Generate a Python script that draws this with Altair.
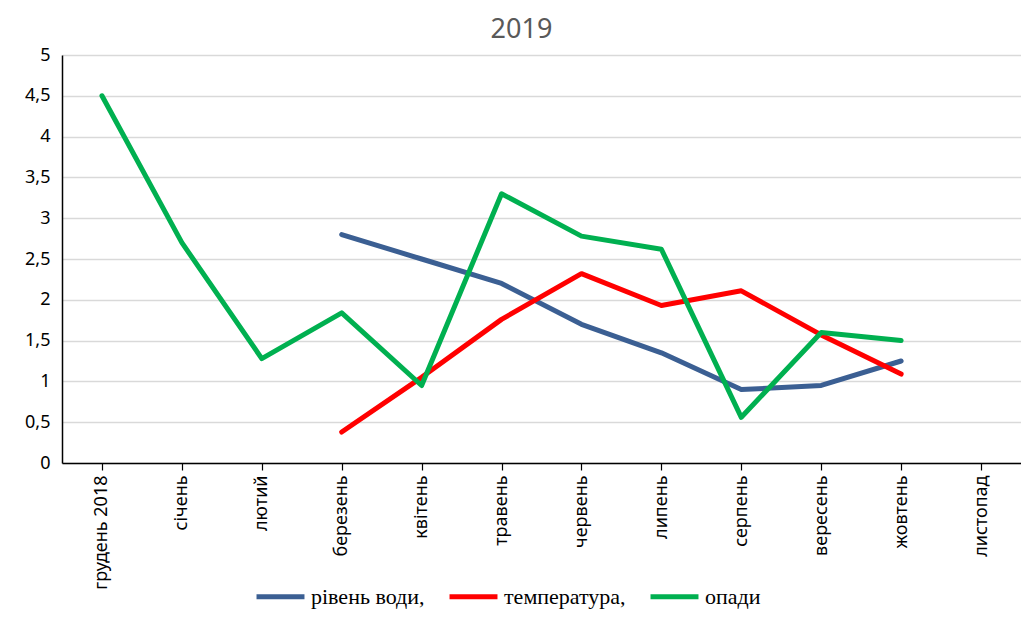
import altair as alt
import pandas as pd

months = ["грудень 2018", "січень", "лютий", "березень", "квітень", "травень",
          "червень", "липень", "серпень", "вересень", "жовтень", "листопад"]
series_names = ["рівень води,", "температура,", "опади"]
water = [None, None, None, 2.8, 2.5, 2.2, 1.7, 1.35, 0.9, 0.95, 1.25, None]
temp = [None, None, None, 0.38, 1.05, 1.76, 2.32, 1.93, 2.11, 1.57, 1.09, None]
precip = [4.5, 2.7, 1.28, 1.84, 0.95, 3.3, 2.78, 2.62, 0.56, 1.6, 1.5, None]
colors = ["#3B5F93", "#FF0000", "#00B050"]

rows = []
for name, vals in zip(series_names, [water, temp, precip]):
    for i, (m, v) in enumerate(zip(months, vals)):
        if v is not None:
            rows.append({"month": m, "value": v, "series": name, "order": i})
df = pd.DataFrame(rows)

font = "Noto Sans"

chart = alt.Chart(df).mark_line(strokeWidth=5, strokeCap="round", strokeJoin="round").encode(
    x=alt.X("month:N", sort=months, scale=alt.Scale(domain=months, type="point", padding=0.5),
            axis=alt.Axis(title=None, labelAngle=-90, labelAlign="right", labelBaseline="middle",
                          labelFontSize=18, labelFont=font, labelColor="#000000", labelPadding=5,
                          domainColor="#000000", domainWidth=1.5, tickColor="#000000",
                          tickSize=7, tickWidth=1.2, grid=False)),
    y=alt.Y("value:Q", scale=alt.Scale(domain=[0, 5], nice=False),
            axis=alt.Axis(title=None, values=[0, 0.5, 1, 1.5, 2, 2.5, 3, 3.5, 4, 4.5, 5],
                          format=",.1~f", labelExpr="replace(datum.label, '.', ',')",
                          labelFontSize=18, labelFont=font, labelColor="#000000", labelPadding=12,
                          domainColor="#000000", domainWidth=1.5, ticks=False,
                          gridColor="#D9D9D9", gridWidth=1.5)),
    color=alt.Color("series:N", scale=alt.Scale(domain=series_names, range=colors),
                    legend=alt.Legend(title=None, orient="none", direction="horizontal",
                                      legendX=192, legendY=515,
                                      symbolType="stroke", symbolSize=2300, symbolStrokeWidth=5,
                                      labelFont="Liberation Sans Narrow", labelFontSize=22,
                                      labelColor="#000000", columnPadding=14, labelOffset=4)),
    order="order:Q",
).properties(
    width=959, height=408,
    title=alt.TitleParams("2019", fontSize=27, font=font, fontWeight="normal",
                          color="#595959", anchor="middle", dx=-20, offset=2),
    padding={"left": 54, "top": 47, "right": 0, "bottom": 148},
    autosize=alt.AutoSizeParams(type="none"),
).configure_view(stroke=None)

chart.save("out.html", embed_options={"renderer": "svg", "actions": False})
